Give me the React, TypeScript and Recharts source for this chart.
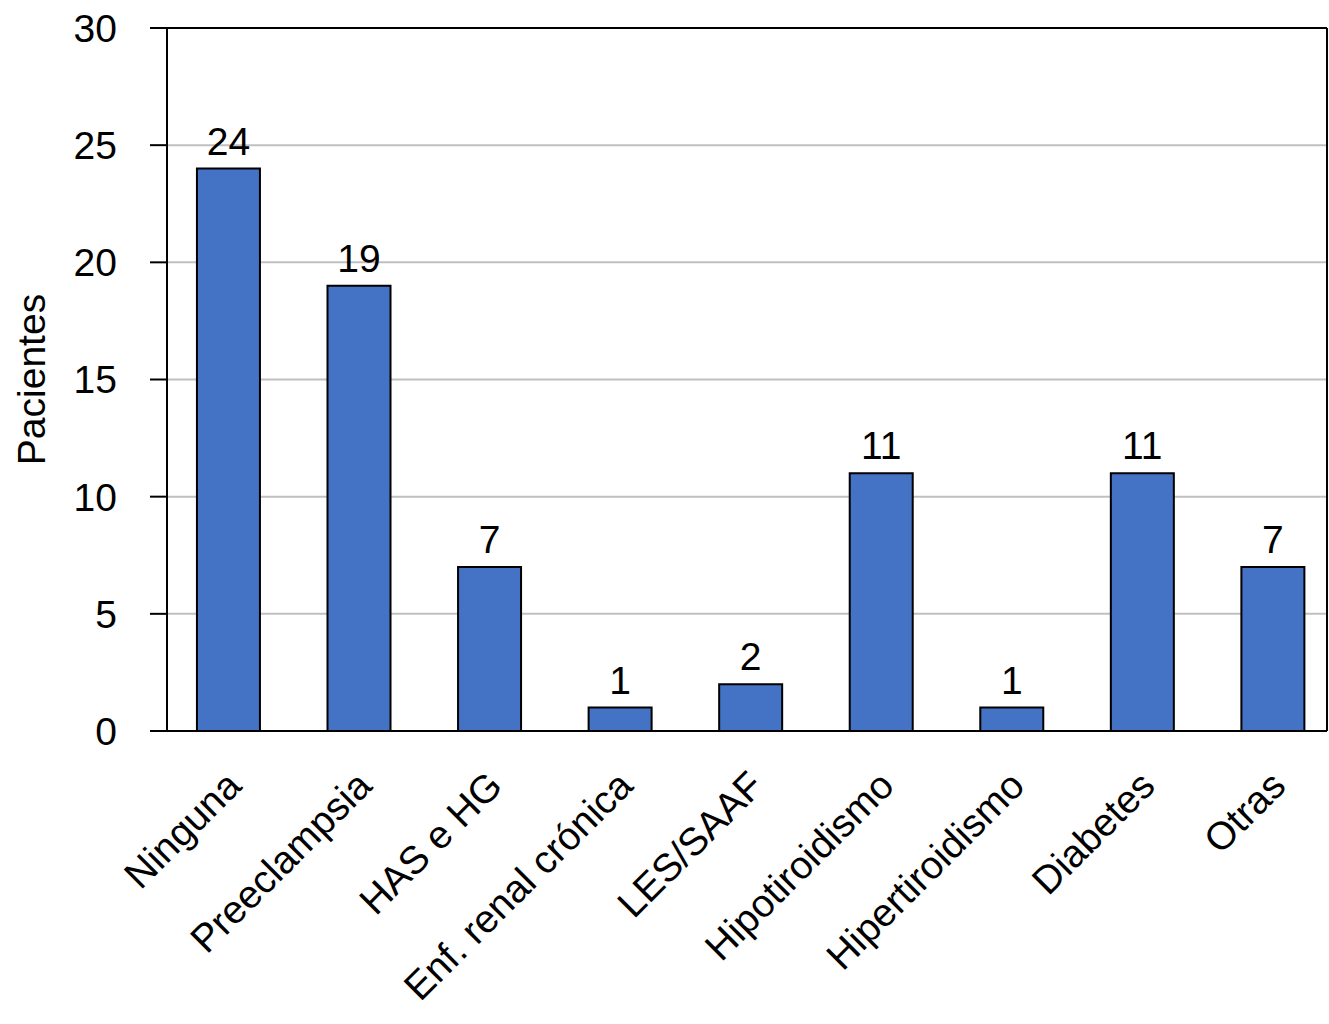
import React from 'react';
import {
  BarChart,
  Bar,
  XAxis,
  YAxis,
  CartesianGrid,
  LabelList,
  ReferenceLine,
} from 'recharts';

const categories = [
  'Ninguna',
  'Preeclampsia',
  'HAS e HG',
  'Enf. renal crónica',
  'LES/SAAF',
  'Hipotiroidismo',
  'Hipertiroidismo',
  'Diabetes',
  'Otras',
];
const pacientes = [24, 19, 7, 1, 2, 11, 1, 11, 7];
const yTicks = [0, 5, 10, 15, 20, 25, 30];

const data = categories.map((name, i) => ({ name, value: pacientes[i] }));

const FONT = '"Liberation Sans", Arial, Helvetica, sans-serif';
const FS = 39;

const CategoryTick = (props: any) => {
  const { x, y, payload } = props;
  const px = x + 15;
  const py = y + 57;
  return (
    <text
      x={px}
      y={py}
      transform={`rotate(-45, ${px}, ${py})`}
      textAnchor="end"
      fontSize={FS}
      fontFamily={FONT}
      fill="#000"
    >
      {payload.value}
    </text>
  );
};

const YLabel = (props: any) => {
  const vb = props.viewBox || { x: 0, y: 28, height: 703 };
  const x = vb.x + 45;
  const y = vb.y + vb.height / 2;
  return (
    <text
      x={x}
      y={y}
      transform={`rotate(-90, ${x}, ${y})`}
      textAnchor="middle"
      fontSize={FS}
      fontFamily={FONT}
      fill="#000"
    >
      Pacientes
    </text>
  );
};

export default function App() {
  return (
    <div style={{ position: 'absolute', left: 0, top: 0, background: '#fff' }}>
      <BarChart
        width={1329}
        height={1024}
        data={data}
        margin={{ top: 28, right: 0, left: 0, bottom: 0 }}
        barCategoryGap="26%"
      >
        <CartesianGrid horizontal vertical={false} stroke="#c0c0c0" strokeWidth={2} />
        <XAxis
          dataKey="name"
          height={293}
          interval={0}
          padding={{ left: -4, right: -11 }}
          tickLine={false}
          tickSize={0}
          tickMargin={0}
          axisLine={{ stroke: '#000', strokeWidth: 2 }}
          tick={<CategoryTick />}
        />
        <YAxis
          width={167}
          domain={[0, 30]}
          ticks={yTicks}
          interval={0}
          tickSize={17}
          tickMargin={33}
          tickLine={{ stroke: '#000', strokeWidth: 2 }}
          axisLine={{ stroke: '#000', strokeWidth: 2 }}
          tick={{ fill: '#000', fontSize: FS, fontFamily: FONT }}
          label={<YLabel />}
        />
        <YAxis
          yAxisId="r"
          orientation="right"
          width={2}
          domain={[0, 30]}
          tick={false}
          tickLine={false}
          axisLine={{ stroke: '#000', strokeWidth: 2 }}
        />
        <ReferenceLine y={30} stroke="#000" strokeWidth={2} />
        <Bar
          dataKey="value"
          fill="#4472C4"
          stroke="#000"
          strokeWidth={2}
          isAnimationActive={false}
        >
          <LabelList
            dataKey="value"
            position="top"
            offset={14}
            fill="#000"
            fontSize={FS}
            fontFamily={FONT}
          />
        </Bar>
      </BarChart>
    </div>
  );
}
